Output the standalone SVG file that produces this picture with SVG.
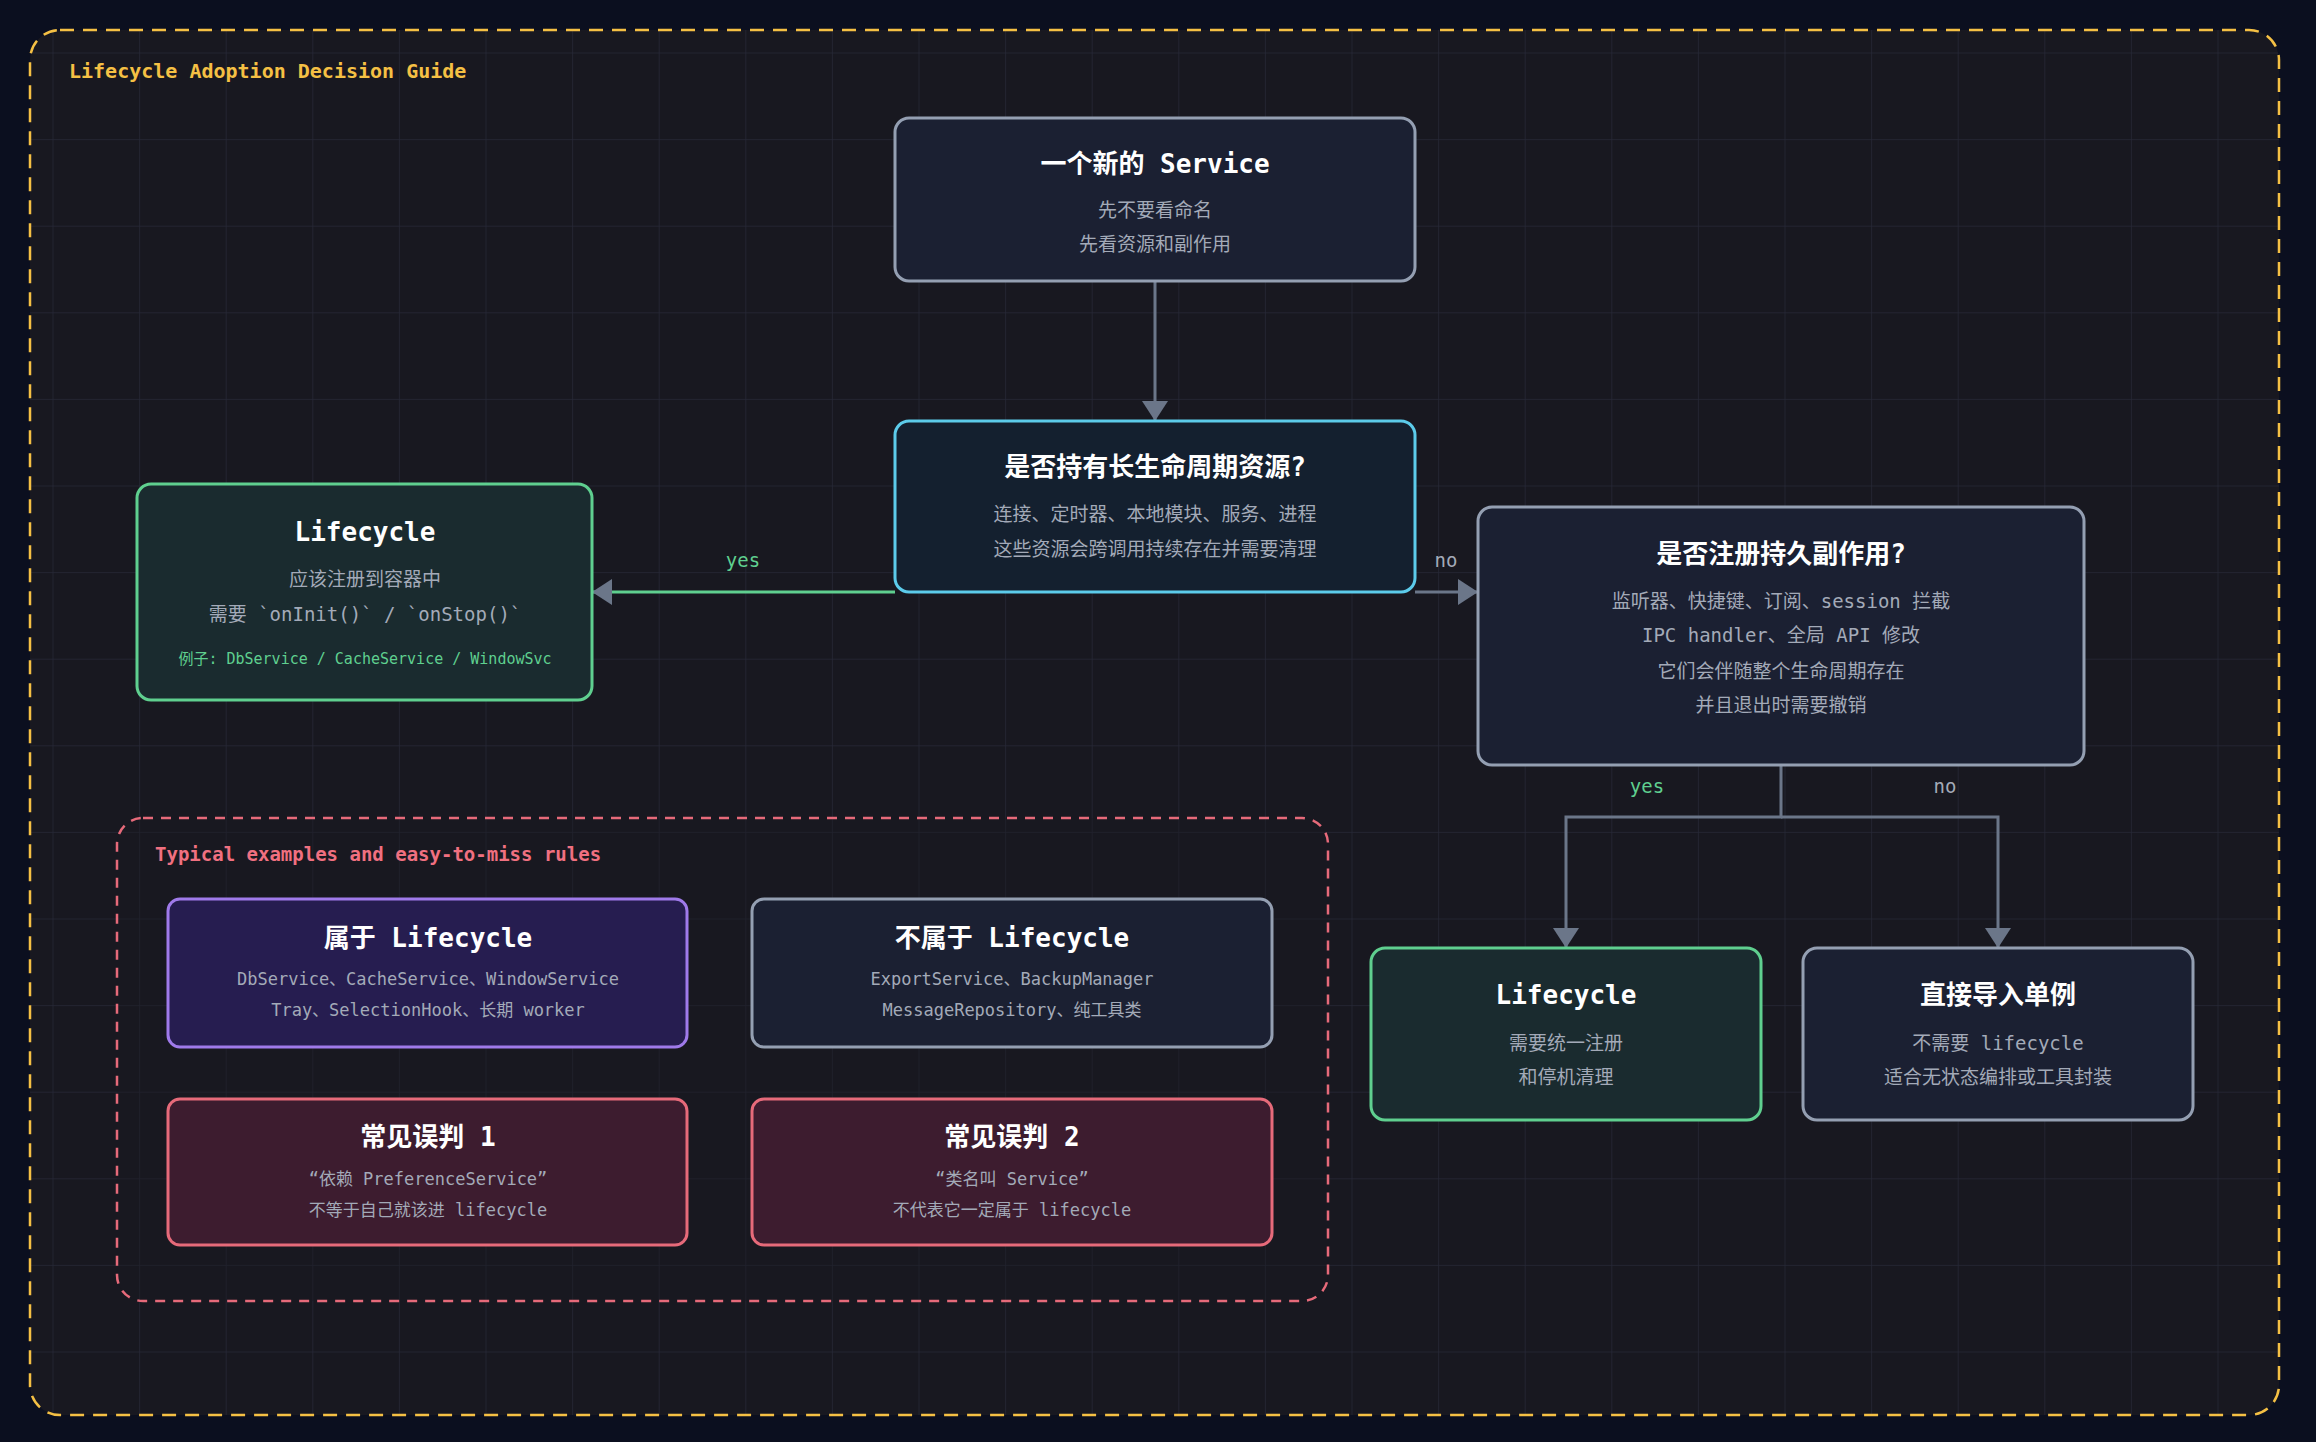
<svg xmlns="http://www.w3.org/2000/svg" width="2316" height="1442" viewBox="0 0 2316 1442">
<defs>
<pattern id="grid" x="52.5" y="52.5" width="86.6" height="86.6" patternUnits="userSpaceOnUse">
<path d="M0 0H86.6M0 0V86.6" fill="none" stroke="#262836" stroke-width="1.5"/>
</pattern>
<marker id="ah" viewBox="0 0 20 26" refX="20" refY="13" markerWidth="20" markerHeight="26" markerUnits="userSpaceOnUse" orient="auto">
<path d="M0 0L20 13L0 26Z" fill="#6b7689"/>
</marker>
<style>
text{font-family:"DejaVu Sans Mono","Liberation Mono","Noto Sans CJK SC",monospace;text-anchor:middle}
.t{font-size:26px;font-weight:bold;fill:#ffffff}
.s{font-size:19px;fill:#a3aab8}
.m{font-size:17px;fill:#a3aab8}
.sm{font-size:15px;fill:#5fd08f}
.lbl{font-size:19px}
.box{stroke-width:3}
.c{fill:none;stroke:#6b7689;stroke-width:3}
</style>
</defs>
<rect width="2316" height="1442" fill="#0b0f1f"/>
<rect x="30" y="30" width="2249" height="1385" rx="30" fill="#181820"/>
<rect x="30" y="30" width="2249" height="1385" rx="30" fill="url(#grid)"/>
<rect x="30" y="30" width="2249" height="1385" rx="30" fill="none" stroke="#f5c044" stroke-width="2.5" stroke-dasharray="14 9"/>
<text x="69" y="78" style="text-anchor:start;font-size:20px;font-weight:bold;fill:#f5c044">Lifecycle Adoption Decision Guide</text>

<g id="examples">
<rect x="117" y="818" width="1211" height="483" rx="26" fill="#181820" fill-opacity="0.4" stroke="#e66a7a" stroke-width="2.5" stroke-dasharray="10 8"/>
<text x="155" y="861" style="text-anchor:start;font-size:19px;font-weight:bold;fill:#f07080">Typical examples and easy-to-miss rules</text>
</g>

<g id="connectors">
<path class="c" d="M1155 281V421" marker-end="url(#ah)"/>
<path d="M895 592H592" fill="none" stroke="#5fcf8f" stroke-width="3" marker-end="url(#ah)"/>
<path class="c" d="M1415 592H1478" marker-end="url(#ah)"/>
<path class="c" d="M1781 765V817H1566V948" marker-end="url(#ah)"/>
<path class="c" d="M1781 817H1998V948" marker-end="url(#ah)"/>
<text class="lbl" x="743" y="567" fill="#5fcf8f">yes</text>
<text class="lbl" x="1446" y="567" fill="#a3aab8">no</text>
<text class="lbl" x="1647" y="793" fill="#5fcf8f">yes</text>
<text class="lbl" x="1945" y="793" fill="#a3aab8">no</text>
</g>

<g id="start">
<rect class="box" x="895" y="118" width="520" height="163" rx="14" fill="#1b2032" stroke="#949fb2"/>
<text class="t" x="1155" y="173">一个新的 Service</text>
<text class="s" x="1155" y="217">先不要看命名</text>
<text class="s" x="1155" y="251">先看资源和副作用</text>
</g>

<g id="q1">
<rect class="box" x="895" y="421" width="520" height="171" rx="14" fill="#14202f" stroke="#5ccbea"/>
<text class="t" x="1155" y="476">是否持有长生命周期资源?</text>
<text class="s" x="1155" y="521">连接、定时器、本地模块、服务、进程</text>
<text class="s" x="1155" y="556">这些资源会跨调用持续存在并需要清理</text>
</g>

<g id="lifecycleLeft">
<rect class="box" x="137" y="484" width="455" height="216" rx="14" fill="#1a2b2f" stroke="#5fcf8f"/>
<text class="t" x="365" y="541">Lifecycle</text>
<text class="s" x="365" y="586">应该注册到容器中</text>
<text class="s" x="365" y="621">需要 `onInit()` / `onStop()`</text>
<text class="sm" x="365" y="664">例子: DbService / CacheService / WindowSvc</text>
</g>

<g id="q2">
<rect class="box" x="1478" y="507" width="606" height="258" rx="14" fill="#1b2032" stroke="#949fb2"/>
<text class="t" x="1781" y="563">是否注册持久副作用?</text>
<text class="s" x="1781" y="608">监听器、快捷键、订阅、session 拦截</text>
<text class="s" x="1781" y="642">IPC handler、全局 API 修改</text>
<text class="s" x="1781" y="678">它们会伴随整个生命周期存在</text>
<text class="s" x="1781" y="712">并且退出时需要撤销</text>
</g>

<g id="lifecycleRight">
<rect class="box" x="1371" y="948" width="390" height="172" rx="14" fill="#1a2b2f" stroke="#5fcf8f"/>
<text class="t" x="1566" y="1004">Lifecycle</text>
<text class="s" x="1566" y="1050">需要统一注册</text>
<text class="s" x="1566" y="1084">和停机清理</text>
</g>

<g id="singleton">
<rect class="box" x="1803" y="948" width="390" height="172" rx="14" fill="#1b2032" stroke="#949fb2"/>
<text class="t" x="1998" y="1004">直接导入单例</text>
<text class="s" x="1998" y="1050">不需要 lifecycle</text>
<text class="s" x="1998" y="1084">适合无状态编排或工具封装</text>
</g>

<g id="belongs">
<rect class="box" x="168" y="899" width="519" height="148" rx="12" fill="#261d50" stroke="#9f7aea"/>
<text class="t" x="428" y="947">属于 Lifecycle</text>
<text class="m" x="428" y="985">DbService、CacheService、WindowService</text>
<text class="m" x="428" y="1016">Tray、SelectionHook、长期 worker</text>
</g>

<g id="notBelongs">
<rect class="box" x="752" y="899" width="520" height="148" rx="12" fill="#1b2032" stroke="#949fb2"/>
<text class="t" x="1012" y="947">不属于 Lifecycle</text>
<text class="m" x="1012" y="985">ExportService、BackupManager</text>
<text class="m" x="1012" y="1016">MessageRepository、纯工具类</text>
</g>

<g id="mistake1">
<rect class="box" x="168" y="1099" width="519" height="146" rx="12" fill="#3d1c2f" stroke="#e66a7a"/>
<text class="t" x="428" y="1146">常见误判 1</text>
<text class="m" x="428" y="1185">“依赖 PreferenceService”</text>
<text class="m" x="428" y="1216">不等于自己就该进 lifecycle</text>
</g>

<g id="mistake2">
<rect class="box" x="752" y="1099" width="520" height="146" rx="12" fill="#3d1c2f" stroke="#e66a7a"/>
<text class="t" x="1012" y="1146">常见误判 2</text>
<text class="m" x="1012" y="1185">“类名叫 Service”</text>
<text class="m" x="1012" y="1216">不代表它一定属于 lifecycle</text>
</g>
</svg>
